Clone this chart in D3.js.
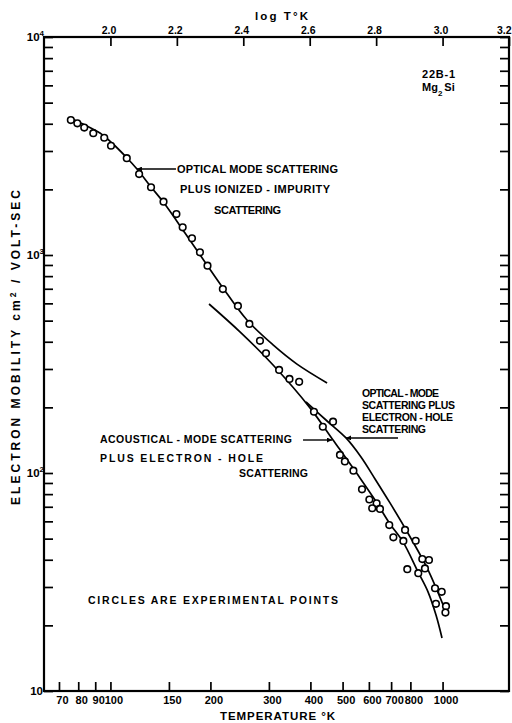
<!DOCTYPE html>
<html>
<head>
<meta charset="utf-8">
<script src="https://cdn.jsdelivr.net/npm/d3@7"></script>
<style>
  html, body { margin: 0; padding: 0; background: #fff; }
  svg { display: block; }
  text { font-family: "Liberation Sans", Arial, sans-serif; font-weight: bold; fill: #000; }
</style>
</head>
<body>
<svg id="chart" width="512" height="723"></svg>
<script>
// Electron mobility of Mg2Si, sample 22B-1 (temperature in K, mobility in cm^2/V-sec)
const tempK = [76, 79.5, 83.4, 88.8, 95.8, 100.4, 112, 122, 132.5, 144.5, 158, 165, 176, 186, 196, 218, 242, 262, 282, 294, 322, 346, 370, 410, 436, 468, 491, 508, 539, 572, 602, 633, 614, 648, 691, 771, 711, 762, 830, 869, 910, 885, 783, 845, 949, 994, 955, 1024, 1020];
const mobility = [4160, 4020, 3840, 3620, 3450, 3170, 2780, 2350, 2045, 1756, 1540, 1340, 1193, 1029, 893, 698, 584, 483, 404, 354, 297, 270, 262, 191, 163, 172, 121, 113, 102.5, 84.2, 75.6, 72.6, 68.9, 68.4, 57.7, 54.8, 50.7, 48.8, 48.9, 40.3, 39.9, 36.5, 36.2, 34.7, 29.6, 28.5, 25.1, 24.5, 22.9];

// Optical-mode plus ionized-impurity scattering
const optImpT  = [76.6, 83.8, 93.0, 101.1, 112.2, 120.2, 132.5, 145.0, 167.7, 195.3, 218.2, 257.7, 308.8, 364.5, 449];
const optImpMu = [4207, 3948, 3627, 3264, 2786, 2480, 2051, 1732, 1262, 900, 706, 503, 387, 316, 259];

// Acoustical-mode plus electron-hole scattering
const acHoleT  = [198.1, 245.5, 308.8, 398.9, 467.9, 564.1, 626.1, 694.5, 760.1, 843.4, 904, 955.5, 996.1];
const acHoleMu = [596, 444, 313, 199, 141.7, 94.9, 75.2, 58.4, 48.3, 35.2, 28.5, 22.3, 17.5];

// Optical-mode plus electron-hole scattering
const optHoleT  = [388, 449, 512, 568.1, 626.1, 694.5, 770.7, 898, 1024];
const optHoleMu = [211.7, 173.2, 144.8, 118.4, 93.9, 72.9, 55.9, 36.7, 23.0];

// Axis ticks
const tempTicks = [70, 80, 90, 100, 150, 200, 300, 400, 500, 600, 700, 800, 1000];
const logTTicks = [2.0, 2.2, 2.4, 2.6, 2.8, 3.0, 3.2];
const decadeExp = [1, 2, 3, 4];

const svg = d3.select("#chart");
const L = 44, R = 509, T = 37, B = 691;

const x = d3.scaleLog().domain([Math.pow(10, 1.8), Math.pow(10, 3.2)]).range([L, R]);
const xLog = d3.scaleLinear().domain([1.8, 3.2]).range([L, R]);
const y = d3.scaleLog().domain([10, 1e4]).range([B, T]);

const ink = "#000";

// Axes with inward ticks
const bottomAxis = svg.append("g").attr("transform", `translate(0,${B})`)
  .call(d3.axisBottom(x).tickValues(tempTicks).tickSize(-9).tickPadding(5).tickFormat(d3.format("d")));
bottomAxis.selectAll("text").attr("dx", 3).style("font-size", "11px");

const topAxis = svg.append("g").attr("transform", `translate(0,${T})`)
  .call(d3.axisTop(xLog).tickValues(logTTicks).tickSize(-9).tickPadding(3.5).tickFormat(d3.format(".1f")));
topAxis.selectAll("text").attr("dx", -2).style("font-size", "10.5px");
topAxis.selectAll(".tick").filter(d => d === logTTicks[logTTicks.length - 1])
  .select("text").attr("text-anchor", "end").attr("dx", 2);

const minor = y.ticks();
svg.append("g").attr("transform", `translate(${L},0)`)
  .call(d3.axisLeft(y).tickValues(minor).tickSize(-9).tickFormat(""));
svg.append("g").attr("transform", `translate(${R},0)`)
  .call(d3.axisRight(y).tickValues(minor).tickSize(-9).tickFormat(""));

svg.selectAll(".domain").remove();
svg.selectAll(".tick line").attr("stroke", ink).attr("stroke-width", 1.7);
svg.selectAll(".tick text").attr("fill", ink).style("font-family", "'Liberation Sans', Arial, sans-serif").style("font-weight", "bold");

// Frame
svg.append("rect").attr("x", L).attr("y", T).attr("width", R - L).attr("height", B - T)
  .attr("fill", "none").attr("stroke", ink).attr("stroke-width", 2.2);

// Decade labels on mobility axis
decadeExp.forEach(e => {
  const t = svg.append("text").attr("y", y(Math.pow(10, e)) + 3.5).style("font-size", "11.5px");
  if (e === 1) {
    t.attr("x", 43).attr("text-anchor", "end").text("10");
  } else {
    t.attr("x", 44).attr("text-anchor", "end");
    t.append("tspan").text("10");
    t.append("tspan").attr("dy", -5).style("font-size", "8px").text(e);
  }
});

// Axis titles
svg.append("text").attr("x", 255).attr("y", 20).attr("textLength", 53)
  .style("font-size", "11.5px").text("log T°K");
svg.append("text").attr("x", 220).attr("y", 720).attr("textLength", 115)
  .style("font-size", "11.5px").text("TEMPERATURE  °K");
const yt = svg.append("text").attr("transform", "translate(19.5,505) rotate(-90)")
  .attr("textLength", 315).style("font-size", "12px");
yt.append("tspan").text("ELECTRON  MOBILITY  cm");
yt.append("tspan").attr("dy", -4).style("font-size", "8.5px").text("2");
yt.append("tspan").attr("dy", 4).text(" / VOLT-SEC");

// Curves
const line = d3.line().x(d => x(d[0])).y(d => y(d[1])).curve(d3.curveCatmullRom.alpha(0.5));
[[optImpT, optImpMu], [acHoleT, acHoleMu], [optHoleT, optHoleMu]].forEach(([ts, ms]) => {
  svg.append("path").datum(ts.map((t, i) => [t, ms[i]])).attr("d", line)
    .attr("fill", "none").attr("stroke", ink).attr("stroke-width", 1.7);
});

// Experimental points
svg.append("g").selectAll("circle").data(tempK.map((t, i) => [t, mobility[i]])).join("circle")
  .attr("cx", d => x(d[0])).attr("cy", d => y(d[1])).attr("r", 3.3)
  .attr("fill", "#fff").attr("stroke", ink).attr("stroke-width", 1.6);

// Arrowheads
svg.append("defs").append("marker").attr("id", "arrow").attr("viewBox", "0 0 10 10")
  .attr("refX", 10).attr("refY", 5).attr("markerWidth", 7).attr("markerHeight", 5)
  .attr("markerUnits", "userSpaceOnUse").attr("orient", "auto")
  .append("path").attr("d", "M0,0L10,5L0,10Z").attr("fill", ink);

function arrow(tipT, tipMu, tailDx) {
  const tx = x(tipT), ty = y(tipMu);
  svg.append("line").attr("x1", tx + tailDx).attr("y1", ty).attr("x2", tx).attr("y2", ty)
    .attr("stroke", ink).attr("stroke-width", 1.4).attr("marker-end", "url(#arrow)");
}
arrow(120.2, 2480, 39);
arrow(512, 144.8, 52);
arrow(464.7, 141.7, -29);

// Annotation text
function label(str, px, py, len, size) {
  svg.append("text").attr("x", px).attr("y", py).attr("textLength", len)
    .attr("lengthAdjust", "spacing").style("font-size", (size || 11) + "px").text(str);
}
label("OPTICAL  MODE  SCATTERING", 177, 172.5, 161);
label("PLUS  IONIZED  -  IMPURITY", 180, 193, 150);
label("SCATTERING", 214, 214, 67);

label("OPTICAL - MODE", 362, 397, 77, 10.5);
label("SCATTERING  PLUS", 362, 409, 93, 10.5);
label("ELECTRON - HOLE", 362, 421, 91, 10.5);
label("SCATTERING", 362, 432.5, 64, 10.5);

label("ACOUSTICAL - MODE  SCATTERING", 100, 443, 192, 10.5);
label("PLUS  ELECTRON - HOLE", 100, 461.5, 163, 10.5);
label("SCATTERING", 239, 477, 69, 10.5);

label("CIRCLES  ARE  EXPERIMENTAL  POINTS", 88, 604, 250, 10.5);

label("22B-1", 422, 77.5, 33, 11);
const mg = svg.append("text").attr("x", 422).attr("y", 91).style("font-size", "11px");
mg.append("tspan").text("Mg");
mg.append("tspan").attr("dy", 5).style("font-size", "8px").text("2");
mg.append("tspan").attr("dy", -5).attr("dx", 2).text("Si");
</script>
</body>
</html>
